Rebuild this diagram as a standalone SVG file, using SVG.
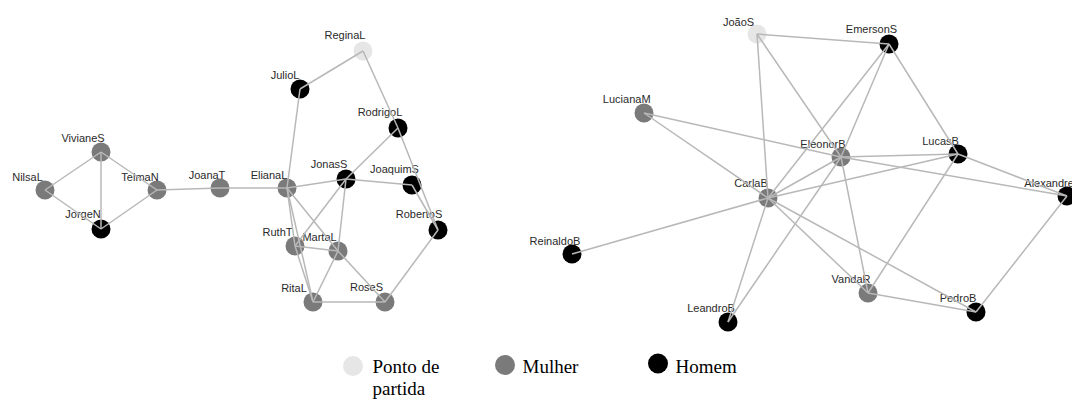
<svg xmlns="http://www.w3.org/2000/svg" width="1072" height="401" viewBox="0 0 1072 401">
<style>
.e{stroke:#b8b8b8;stroke-width:1.5;fill:none}
.s{fill:#e6e6e6}
.w{fill:#7a7a7a}
.m{fill:#000}
.l{font-family:"Liberation Sans",Arial,sans-serif;font-size:11px;fill:#2a2a2a;text-anchor:middle}
.g{font-family:"Liberation Serif","Times New Roman",serif;font-size:19px;fill:#000}
</style>
<rect width="1072" height="401" fill="#fff"/>
<g id="nodes-left">
<g id="NilsaL"><circle class="w" cx="45" cy="190" r="9.5"/><text class="l" x="27.5" y="181">NilsaL</text></g>
<g id="VivianeS"><circle class="w" cx="101" cy="152" r="9.5"/><text class="l" x="83" y="142">VivianeS</text></g>
<g id="TelmaN"><circle class="w" cx="157" cy="190" r="9.5"/><text class="l" x="140" y="181">TelmaN</text></g>
<g id="JorgeN"><circle class="m" cx="101" cy="229" r="9.5"/><text class="l" x="83" y="218">JorgeN</text></g>
<g id="JoanaT"><circle class="w" cx="220" cy="188" r="9.5"/><text class="l" x="207" y="179">JoanaT</text></g>
<g id="ReginaL"><circle class="s" cx="363" cy="51" r="9.5"/><text class="l" x="345" y="39">ReginaL</text></g>
<g id="JulioL"><circle class="m" cx="300" cy="89" r="9.5"/><text class="l" x="285" y="79">JulioL</text></g>
<g id="RodrigoL"><circle class="m" cx="398" cy="128" r="9.5"/><text class="l" x="380" y="116">RodrigoL</text></g>
<g id="ElianaL"><circle class="w" cx="287" cy="188" r="9.5"/><text class="l" x="269" y="179">ElianaL</text></g>
<g id="JonasS"><circle class="m" cx="346" cy="179" r="9.5"/><text class="l" x="329" y="168">JonasS</text></g>
<g id="JoaquimS"><circle class="m" cx="412" cy="185" r="9.5"/><text class="l" x="394.5" y="173">JoaquimS</text></g>
<g id="RobertoS"><circle class="m" cx="438" cy="230" r="9.5"/><text class="l" x="419" y="218">RobertoS</text></g>
<g id="RuthT"><circle class="w" cx="295" cy="246" r="9.5"/><text class="l" x="277.5" y="236">RuthT</text></g>
<g id="MartaL"><circle class="w" cx="338" cy="251" r="9.5"/><text class="l" x="319.5" y="241">MartaL</text></g>
<g id="RitaL"><circle class="w" cx="313" cy="302" r="9.5"/><text class="l" x="294" y="292">RitaL</text></g>
<g id="RoseS"><circle class="w" cx="385" cy="302" r="9.5"/><text class="l" x="366.5" y="291">RoseS</text></g>
</g>
<g id="nodes-right">
<g id="JoaoS"><circle class="s" cx="757" cy="34" r="9.5"/><text class="l" x="738.5" y="26">JoãoS</text></g>
<g id="EmersonS"><circle class="m" cx="889" cy="44" r="9.5"/><text class="l" x="871.5" y="33">EmersonS</text></g>
<g id="LucianaM"><circle class="w" cx="644" cy="113" r="9.5"/><text class="l" x="626.7" y="103">LucianaM</text></g>
<g id="EleonorB"><circle class="w" cx="841" cy="157" r="9.5"/><text class="l" x="823" y="148">EleonorB</text></g>
<g id="LucasB"><circle class="m" cx="958" cy="154" r="9.5"/><text class="l" x="940.5" y="145">LucasB</text></g>
<g id="CarlaB"><circle class="w" cx="768" cy="198" r="9.5"/><text class="l" x="751" y="187">CarlaB</text></g>
<g id="Alexandre"><circle class="m" cx="1067" cy="196" r="9.5"/><text class="l" x="1024.3" y="187" style="text-anchor:start">Alexandre</text></g>
<g id="ReinaldoB"><circle class="m" cx="572" cy="254" r="9.5"/><text class="l" x="555" y="245">ReinaldoB</text></g>
<g id="LeandroB"><circle class="m" cx="728" cy="322" r="9.5"/><text class="l" x="711" y="312">LeandroB</text></g>
<g id="VandaR"><circle class="w" cx="868" cy="293" r="9.5"/><text class="l" x="851" y="283">VandaR</text></g>
<g id="PedroB"><circle class="m" cx="976" cy="312" r="9.5"/><text class="l" x="958" y="302">PedroB</text></g>
</g>
<g id="connectors">
<line class="e" x1="45" y1="190" x2="101" y2="152"/>
<line class="e" x1="45" y1="190" x2="101" y2="229"/>
<line class="e" x1="101" y1="152" x2="101" y2="229"/>
<line class="e" x1="101" y1="152" x2="157" y2="190"/>
<line class="e" x1="157" y1="190" x2="101" y2="229"/>
<line class="e" x1="157" y1="190" x2="220" y2="188"/>
<line class="e" x1="220" y1="188" x2="287" y2="188"/>
<line class="e" x1="363" y1="51" x2="300" y2="89"/>
<line class="e" x1="363" y1="51" x2="398" y2="128"/>
<line class="e" x1="300" y1="89" x2="287" y2="188"/>
<line class="e" x1="398" y1="128" x2="346" y2="179"/>
<line class="e" x1="398" y1="128" x2="438" y2="230"/>
<line class="e" x1="287" y1="188" x2="346" y2="179"/>
<line class="e" x1="346" y1="179" x2="412" y2="185"/>
<line class="e" x1="412" y1="185" x2="438" y2="230"/>
<line class="e" x1="287" y1="188" x2="295" y2="246"/>
<line class="e" x1="287" y1="188" x2="313" y2="302"/>
<line class="e" x1="287" y1="188" x2="338" y2="251"/>
<line class="e" x1="346" y1="179" x2="295" y2="246"/>
<line class="e" x1="346" y1="179" x2="338" y2="251"/>
<line class="e" x1="295" y1="246" x2="338" y2="251"/>
<line class="e" x1="295" y1="246" x2="313" y2="302"/>
<line class="e" x1="338" y1="251" x2="313" y2="302"/>
<line class="e" x1="338" y1="251" x2="385" y2="302"/>
<line class="e" x1="313" y1="302" x2="385" y2="302"/>
<line class="e" x1="385" y1="302" x2="438" y2="230"/>
<line class="e" x1="757" y1="34" x2="889" y2="44"/>
<line class="e" x1="757" y1="34" x2="768" y2="198"/>
<line class="e" x1="757" y1="34" x2="841" y2="157"/>
<line class="e" x1="644" y1="113" x2="768" y2="198"/>
<line class="e" x1="644" y1="113" x2="841" y2="157"/>
<line class="e" x1="889" y1="44" x2="768" y2="198"/>
<line class="e" x1="889" y1="44" x2="841" y2="157"/>
<line class="e" x1="889" y1="44" x2="958" y2="154"/>
<line class="e" x1="841" y1="157" x2="768" y2="198"/>
<line class="e" x1="841" y1="157" x2="958" y2="154"/>
<line class="e" x1="841" y1="157" x2="1067" y2="196"/>
<line class="e" x1="841" y1="157" x2="868" y2="293"/>
<line class="e" x1="841" y1="157" x2="728" y2="322"/>
<line class="e" x1="958" y1="154" x2="768" y2="198"/>
<line class="e" x1="958" y1="154" x2="868" y2="293"/>
<line class="e" x1="958" y1="154" x2="1067" y2="196"/>
<line class="e" x1="768" y1="198" x2="572" y2="254"/>
<line class="e" x1="768" y1="198" x2="728" y2="322"/>
<line class="e" x1="768" y1="198" x2="868" y2="293"/>
<line class="e" x1="768" y1="198" x2="976" y2="312"/>
<line class="e" x1="868" y1="293" x2="976" y2="312"/>
<line class="e" x1="976" y1="312" x2="1067" y2="196"/>
</g>
<g id="legend">
<circle class="s" cx="353" cy="366" r="10"/>
<text class="g" x="372.5" y="373">Ponto de</text>
<text class="g" x="372.5" y="395">partida</text>
<circle class="w" cx="505" cy="365" r="10"/>
<text class="g" x="522.5" y="373">Mulher</text>
<circle class="m" cx="658" cy="363.5" r="10"/>
<text class="g" x="675.5" y="372.5">Homem</text>
</g>
</svg>
